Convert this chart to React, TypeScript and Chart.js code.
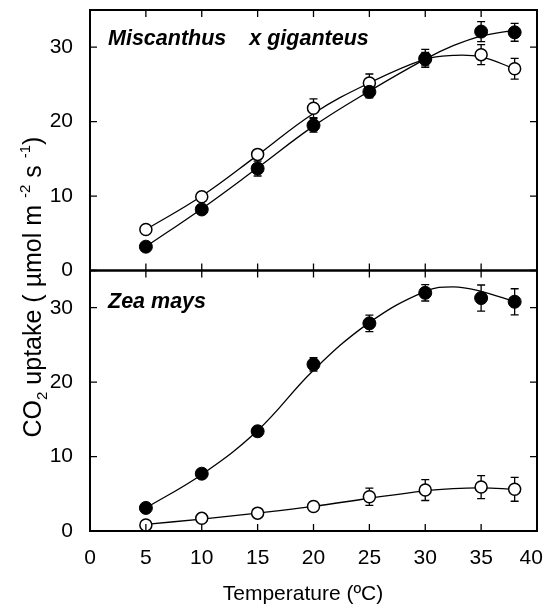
import React, { useEffect, useRef } from "react";
import { Chart, registerables } from "chart.js";

Chart.register(...registerables);

// ---------- data ----------
const temps = [5, 10, 15, 20, 25, 30, 35, 38];

// Miscanthus x giganteus (top panel)
const miscFilled = [3.2, 8.2, 13.7, 19.5, 24.0, 28.4, 32.1, 32.0];
const miscFilledErr = [0.3, 0.4, 1.0, 0.9, 0.8, 0.9, 1.35, 1.2];
const miscOpen = [5.5, 9.9, 15.6, 21.8, 25.2, 28.5, 29.0, 27.1];
const miscOpenErr = [0.3, 0.4, 0.4, 1.25, 1.2, 1.2, 1.35, 1.4];

// Zea mays (bottom panel)
const zeaFilled = [3.1, 7.7, 13.4, 22.4, 27.9, 32.0, 31.3, 30.8];
const zeaFilledErr = [0.3, 0.4, 0.6, 0.9, 1.1, 1.1, 1.75, 1.75];
const zeaOpen = [0.8, 1.7, 2.4, 3.3, 4.6, 5.5, 5.9, 5.6];
const zeaOpenErr = [0.2, 0.3, 0.4, 0.6, 1.15, 1.4, 1.55, 1.6];

// fitted curves
const fitTemps = [5, 10, 15, 20, 25, 30, 32.5, 35, 38];
const miscFilledFit = [3.2, 8.3, 13.8, 19.4, 24.1, 28.4, 30.2, 31.5, 32.3];
const miscOpenFit = [5.5, 10.0, 15.5, 21.1, 25.2, 28.4, 28.9, 28.7, 27.1];
const zeaFilledFit = [3.1, 7.6, 13.5, 21.6, 28.0, 32.2, 32.8, 32.2, 30.8];
const zeaOpenFit = [0.9, 1.6, 2.4, 3.3, 4.4, 5.4, 5.7, 5.8, 5.6];

const xTicks = [0, 5, 10, 15, 20, 25, 30, 35, 40];
const yTicks = [0, 10, 20, 30];
const topLabelA = "Miscanthus";
const topLabelB = "x giganteus";
const bottomLabel = "Zea mays";
const xTitle = "Temperature (ºC)";

const FONT = "'Liberation Sans', Arial, Helvetica, sans-serif";

const pts = (xs: number[], ys: number[]) => xs.map((x, i) => ({ x, y: ys[i] }));

const markerDs = (data: number[], errs: number[], axis: string, filled: boolean) => ({
  type: "line",
  data: pts(temps, data),
  errors: errs,
  yAxisID: axis,
  showLine: false,
  pointRadius: filled ? 6.5 : 6,
  pointBackgroundColor: filled ? "#000" : "#fff",
  pointBorderColor: "#000",
  pointBorderWidth: filled ? 1 : 1.5,
  clip: false,
  order: 0,
});

const fitDs = (data: number[], axis: string) => ({
  type: "line",
  data: pts(fitTemps, data),
  yAxisID: axis,
  borderColor: "#000",
  borderWidth: 1.3,
  pointRadius: 0,
  tension: 0.4,
  fill: false,
  clip: false,
  order: 1,
});

const errorBarPlugin = {
  id: "errorBars",
  beforeDatasetsDraw(chart: any) {
    const ctx = chart.ctx;
    const xs = chart.scales.x;
    ctx.save();
    ctx.strokeStyle = "#000";
    ctx.lineWidth = 1.3;
    chart.data.datasets.forEach((ds: any) => {
      if (!ds.errors) return;
      const ys = chart.scales[ds.yAxisID];
      ds.data.forEach((p: any, j: number) => {
        const e = ds.errors[j];
        const px = xs.getPixelForValue(p.x);
        const y1 = ys.getPixelForValue(p.y + e);
        const y2 = ys.getPixelForValue(p.y - e);
        ctx.beginPath();
        ctx.moveTo(px, y1);
        ctx.lineTo(px, y2);
        ctx.moveTo(px - 4, y1);
        ctx.lineTo(px + 4, y1);
        ctx.moveTo(px - 4, y2);
        ctx.lineTo(px + 4, y2);
        ctx.stroke();
      });
    });
    ctx.restore();
  },
};

const framePlugin = {
  id: "frame",
  afterDraw(chart: any) {
    const ctx = chart.ctx;
    const xs = chart.scales.x;
    ctx.save();
    ctx.strokeStyle = "#000";
    ["yTop", "yBot"].forEach((id) => {
      const ys = chart.scales[id];
      const l = xs.left, r = xs.right, t = ys.top, b = ys.bottom;
      ctx.lineWidth = 1.3;
      ctx.beginPath();
      xTicks.forEach((v) => {
        const px = xs.getPixelForValue(v);
        ctx.moveTo(px, b);
        ctx.lineTo(px, b - 7);
        ctx.moveTo(px, t);
        ctx.lineTo(px, t + 7);
      });
      yTicks.forEach((v) => {
        const py = ys.getPixelForValue(v);
        ctx.moveTo(l, py);
        ctx.lineTo(l + 7, py);
        ctx.moveTo(r, py);
        ctx.lineTo(r - 7, py);
      });
      ctx.stroke();
      ctx.lineWidth = 2;
      ctx.strokeRect(l, t, r - l, b - t);
    });

    // panel labels
    ctx.fillStyle = "#000";
    ctx.font = `italic bold 21.5px ${FONT}`;
    ctx.textBaseline = "alphabetic";
    ctx.textAlign = "left";
    const top = chart.scales.yTop;
    const bot = chart.scales.yBot;
    const lx = xs.left + 18;
    ctx.fillText(topLabelA, lx, top.top + 35);
    const wA = ctx.measureText(topLabelA).width;
    ctx.fillText(topLabelB, lx + wA + 23, top.top + 35);
    ctx.fillText(bottomLabel, lx, bot.top + 37);

    // x title
    ctx.font = `21px ${FONT}`;
    ctx.textAlign = "center";
    ctx.fillText(xTitle, 303, 600);

    // y title with sub/superscripts
    const segs: [string, string][] = [
      ["CO", "n"], ["2", "sub"], [" uptake ( ", "n"], ["\u00b5mol m ", "n"],
      ["-2", "sup"], [" s ", "n"], ["-1", "sup"], [")", "n"],
    ];
    const big = 25, small = 15;
    let total = 0;
    segs.forEach(([s, k]) => {
      ctx.font = `${k === "n" ? big : small}px ${FONT}`;
      total += ctx.measureText(s).width;
    });
    ctx.translate(41, 287);
    ctx.rotate(-Math.PI / 2);
    ctx.textAlign = "left";
    let cx = -total / 2;
    segs.forEach(([s, k]) => {
      ctx.font = `${k === "n" ? big : small}px ${FONT}`;
      const dy = k === "sub" ? 6 : k === "sup" ? -11 : 0;
      ctx.fillText(s, cx, dy);
      cx += ctx.measureText(s).width;
    });
    ctx.restore();
  },
};

const yAxis = () => ({
  type: "linear",
  position: "left",
  stack: "panels",
  stackWeight: 1,
  min: 0,
  max: 35,
  afterBuildTicks: (s: any) => {
    s.ticks = yTicks.map((v) => ({ value: v }));
  },
  afterFit: (s: any) => {
    s.width = 90;
    s.paddingTop = 0;
    s.paddingBottom = 0;
  },
  grid: { display: false, drawTicks: false },
  border: { display: false },
  ticks: { color: "#000", font: { family: FONT, size: 21 }, padding: 17 },
});

export default function App() {
  const ref = useRef<HTMLCanvasElement>(null);
  useEffect(() => {
    document.body.style.margin = "0";
    const chart = new Chart(ref.current as HTMLCanvasElement, {
      type: "line",
      data: {
        datasets: [
          markerDs(miscFilled, miscFilledErr, "yTop", true),
          markerDs(miscOpen, miscOpenErr, "yTop", false),
          fitDs(miscFilledFit, "yTop"),
          fitDs(miscOpenFit, "yTop"),
          markerDs(zeaFilled, zeaFilledErr, "yBot", true),
          markerDs(zeaOpen, zeaOpenErr, "yBot", false),
          fitDs(zeaFilledFit, "yBot"),
          fitDs(zeaOpenFit, "yBot"),
        ] as any,
      },
      options: {
        responsive: false,
        animation: false,
        layout: { padding: { left: 0, right: 9, top: 10, bottom: 0 } },
        plugins: { legend: { display: false }, tooltip: { enabled: false } },
        scales: {
          x: {
            type: "linear",
            position: "bottom",
            min: 0,
            max: 40,
            afterBuildTicks: (s: any) => {
              s.ticks = xTicks.map((v) => ({ value: v }));
            },
            afterFit: (s: any) => {
              s.height = 74;
              s.paddingLeft = 0;
              s.paddingRight = 0;
            },
            grid: { display: false, drawTicks: false },
            border: { display: false },
            ticks: {
              color: "#000",
              font: { family: FONT, size: 21 },
              padding: 15,
              maxRotation: 0,
              // last label nudged left (trailing space) so it stays inside the page
              callback: (v: any) => (v === xTicks[xTicks.length - 1] ? `${v}  ` : `${v}`),
            },
          },
          yBot: yAxis(),
          yTop: yAxis(),
        } as any,
      },
      plugins: [errorBarPlugin, framePlugin],
    } as any);
    return () => chart.destroy();
  }, []);
  return <canvas ref={ref} width={546} height={605} style={{ display: "block" }} />;
}
